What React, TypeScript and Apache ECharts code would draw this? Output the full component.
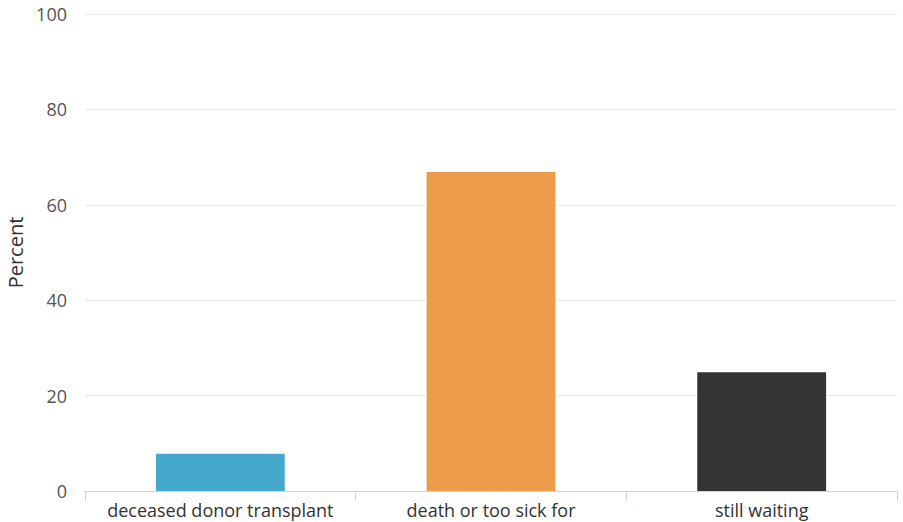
import React, { useEffect, useRef } from "react";
import * as echarts from "echarts";

const categories = ["deceased donor transplant", "death or too sick for", "still waiting"];
const values = [7.8, 66.9, 24.9];
const barColors = ["#44a9cc", "#eb9b4a", "#333333"];
const yTicks = { min: 0, max: 100, interval: 20 };
const yAxisTitle = "Percent";

export default function App() {
  const ref = useRef<HTMLDivElement>(null);

  useEffect(() => {
    if (!ref.current) return;
    const chart = echarts.init(ref.current, undefined, { renderer: "svg" });
    const font = "'Open Sans', 'DejaVu Sans', sans-serif";
    chart.setOption({
      animation: false,
      grid: {
        left: 85,
        right: 6,
        top: 14,
        bottom: 31,
        containLabel: false,
        outerBoundsMode: "none",
      },
      xAxis: {
        type: "category",
        data: categories,
        axisLine: { show: true, lineStyle: { color: "#ccd6eb", width: 1 } },
        axisTick: { show: true, alignWithLabel: false, length: 10, lineStyle: { color: "#ccd6eb" } },
        axisLabel: { color: "#333333", fontSize: 18, fontFamily: font, margin: 9, interval: 0, lineHeight: 20 },
        splitLine: { show: false },
      },
      yAxis: {
        type: "value",
        min: yTicks.min,
        max: yTicks.max,
        interval: yTicks.interval,
        name: yAxisTitle,
        nameLocation: "middle",
        nameGap: 60,
        nameRotate: 90,
        nameTextStyle: { color: "#333333", fontSize: 20, fontFamily: font },
        axisLine: { show: false },
        axisTick: { show: false },
        axisLabel: { color: "#555555", fontSize: 18, fontFamily: font, margin: 18 },
        splitLine: { show: true, lineStyle: { color: "#e9e9e9", width: 1 } },
      },
      series: [
        {
          type: "bar",
          barWidth: "47.6%",
          data: values.map((v, i) => ({ value: v, itemStyle: { color: barColors[i] } })),
        },
      ],
    });
    return () => chart.dispose();
  }, []);

  return (
    <div
      ref={ref}
      style={{ position: "fixed", left: 0, top: 0, width: 903, height: 522, background: "#ffffff" }}
    />
  );
}
